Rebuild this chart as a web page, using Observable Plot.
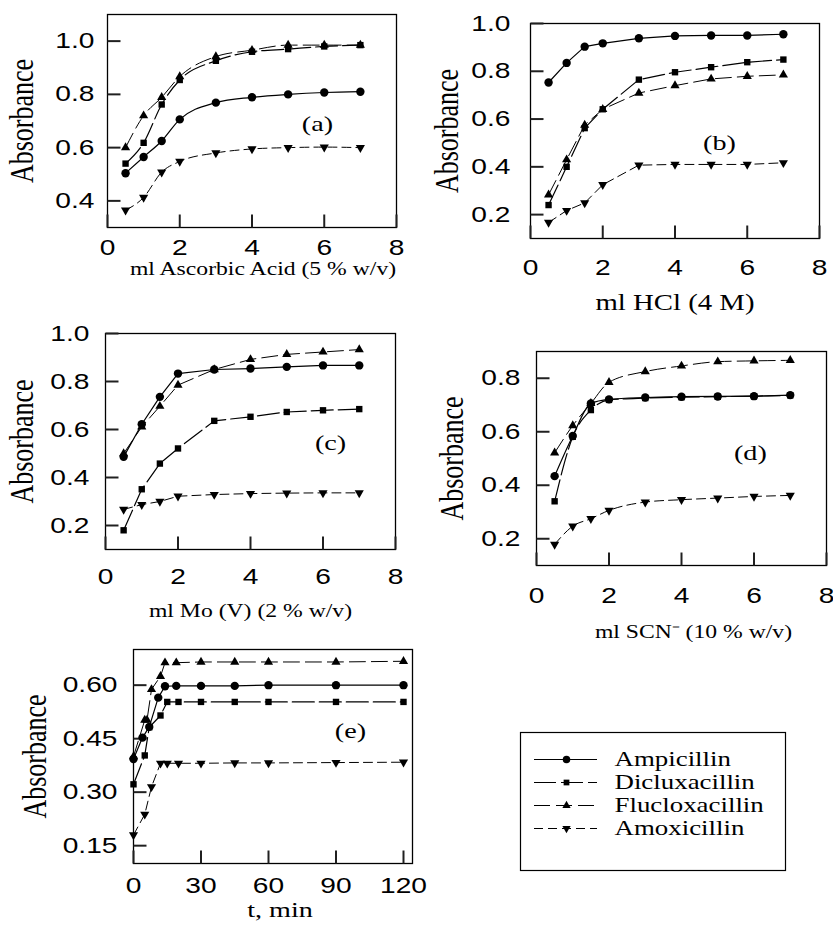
<!DOCTYPE html>
<html><head><meta charset="utf-8">
<script src="https://cdn.jsdelivr.net/npm/d3@7"></script>
<script src="https://cdn.jsdelivr.net/npm/@observablehq/plot@0.6"></script>
<style>
body{margin:0;background:#fff;}
#wrap{position:relative;width:833px;height:928px;background:#fff;overflow:hidden;}
#wrap > svg{position:absolute;}
</style></head><body><div id="wrap"></div>
<script>
// ---------- data ----------
const seriesNames = ["Ampicillin", "Dicluxacillin", "Flucloxacillin", "Amoxicillin"];
const volX = [0.5, 1, 1.5, 2, 3, 4, 5, 6, 7];

// (a) ml Ascorbic Acid
const aAmp = [0.504, 0.565, 0.625, 0.706, 0.769, 0.789, 0.800, 0.807, 0.810];
const aDic = [0.540, 0.618, 0.762, 0.854, 0.926, 0.960, 0.970, 0.980, 0.985];
const aFlu = [0.600, 0.720, 0.789, 0.867, 0.942, 0.966, 0.985, 0.985, 0.985];
const aAmx = [0.365, 0.413, 0.508, 0.548, 0.580, 0.595, 0.600, 0.602, 0.600];
// (b) ml HCl
const bAmp = [0.753, 0.835, 0.903, 0.917, 0.938, 0.948, 0.950, 0.950, 0.955];
const bDic = [0.240, 0.400, 0.562, 0.641, 0.765, 0.796, 0.817, 0.838, 0.849];
const bFlu = [0.283, 0.430, 0.575, 0.641, 0.709, 0.740, 0.768, 0.779, 0.785];
const bAmx = [0.167, 0.217, 0.249, 0.325, 0.407, 0.410, 0.410, 0.410, 0.417];
// (c) ml Mo(V)
const cAmp = [0.486, 0.622, 0.736, 0.833, 0.850, 0.854, 0.861, 0.867, 0.867];
const cDic = [0.180, 0.351, 0.458, 0.521, 0.636, 0.653, 0.673, 0.680, 0.685];
const cFlu = [0.500, 0.611, 0.697, 0.785, 0.850, 0.892, 0.913, 0.923, 0.933];
const cAmx = [0.267, 0.287, 0.300, 0.322, 0.329, 0.333, 0.335, 0.336, 0.336];
// (d) ml SCN-
const dAmp = [0.434, 0.584, 0.706, 0.721, 0.728, 0.731, 0.732, 0.733, 0.737];
const dDic = [0.340, 0.581, 0.681, 0.719, 0.726, 0.729, 0.731, 0.733, 0.736];
const dFlu = [0.521, 0.623, 0.706, 0.785, 0.825, 0.846, 0.862, 0.865, 0.867];
const dAmx = [0.179, 0.247, 0.275, 0.306, 0.337, 0.346, 0.352, 0.358, 0.362];
// (e) time, min
const eAmpT = [0, 4, 7, 11, 14, 19, 30, 45, 60, 90, 120];
const eAmp  = [0.393, 0.453, 0.483, 0.565, 0.597, 0.598, 0.598, 0.598, 0.600, 0.600, 0.600];
const eDicT = [0, 5, 7, 12, 15, 20, 30, 45, 60, 90, 120];
const eDic  = [0.322, 0.403, 0.482, 0.515, 0.553, 0.553, 0.553, 0.553, 0.553, 0.553, 0.553];
const eFluT = [0, 5, 6, 8, 12, 14, 19, 30, 45, 60, 90, 120];
const eFlu  = [0.400, 0.502, 0.502, 0.588, 0.625, 0.663, 0.663, 0.665, 0.665, 0.665, 0.665, 0.667];
const eAmxT = [0, 5, 8, 12, 15, 20, 30, 45, 60, 90, 120];
const eAmx  = [0.180, 0.238, 0.315, 0.381, 0.381, 0.381, 0.381, 0.382, 0.382, 0.383, 0.384];

const volTicks = [0, 2, 4, 6, 8];
const timeTicks = [0, 30, 60, 90, 120];
const yTicksA = [0.4, 0.6, 0.8, 1.0];
const yTicksBC = [0.2, 0.4, 0.6, 0.8, 1.0];
const yTicksD = [0.2, 0.4, 0.6, 0.8];
const yTicksE = [0.15, 0.30, 0.45, 0.60];

// ---------- styles ----------
const SANS = "'Liberation Sans', Arial, sans-serif";
const SERIF = "'Liberation Serif', 'Times New Roman', serif";
const STRETCH = 1.28;
const INK = "black";
const TICKINK = "#202020";
const TICK = 13;
const sty = {
  Ampicillin:     {symbol: "circle",   r: 4.2, rotate: 0,   dash: null,   sw: 1.2},
  Dicluxacillin:  {symbol: "square",   r: 3.6, rotate: 0,   dash: "22,5", sw: 1.2},
  Flucloxacillin: {symbol: "triangle", r: 3.4, rotate: 0,   dash: "16,6", sw: 1.0},
  Amoxicillin:    {symbol: "triangle", r: 3.4, rotate: 180, dash: "9,5",  sw: 1.0}
};

const wrap = document.getElementById("wrap");

function stretchText(svg) {
  svg.querySelectorAll("text").forEach(t => {
    let tr = t.getAttribute("transform");
    if (tr) {
      if (tr.includes("rotate")) tr = tr.replace("rotate", `scale(${STRETCH},1) rotate`);
      else tr = tr + ` scale(${STRETCH},1)`;
      t.setAttribute("transform", tr);
    } else {
      const x = +t.getAttribute("x") || 0, y = +t.getAttribute("y") || 0;
      t.setAttribute("x", 0); t.setAttribute("y", 0);
      t.setAttribute("transform", `translate(${x},${y}) scale(${STRETCH},1)`);
    }
  });
}

function place(svg, left, top) {
  svg.style.left = left + "px";
  svg.style.top = top + "px";
  stretchText(svg);
  wrap.appendChild(svg);
}

function panel(c) {
  const fw = c.w - c.mL - c.mR, fh = c.h - c.mT - c.mB;
  const [x0, x1] = c.xDomain, [y0, y1] = c.yDomain;
  const tx = TICK * (x1 - x0) / fw, ty = TICK * (y1 - y0) / fh;  // tick length in data units
  const marks = [
    Plot.frame({stroke: INK, strokeWidth: 1.3, fill: "none"}),
    // inward tick marks
    Plot.link(c.xTicks, {x1: d => d, x2: d => d, y1: y0, y2: y0 + ty, stroke: TICKINK, strokeWidth: 2}),
    Plot.link(c.yTicks, {y1: d => d, y2: d => d, x1: x0, x2: x0 + tx, stroke: TICKINK, strokeWidth: 2}),
    // tick labels
    Plot.axisX({ticks: c.xTicks, tickSize: 0, tickPadding: c.xPad, fontSize: 22, fontFamily: SANS, label: null, fill: INK}),
    Plot.axisY({ticks: c.yTicks, tickSize: 0, tickPadding: c.yPad, tickFormat: d3.format(c.yFmt), fontSize: 22, fontFamily: SANS, label: null, fill: INK})
  ];
  c.series.forEach(([name, xs, ys]) => {
    const d = xs.map((x, i) => ({x, y: ys[i]}));
    const s = sty[name];
    marks.push(Plot.line(d, {x: "x", y: "y", stroke: INK, strokeWidth: s.sw, strokeDasharray: s.dash, curve: c.curve}));
  });
  c.series.forEach(([name, xs, ys]) => {
    const d = xs.map((x, i) => ({x, y: ys[i]}));
    const s = sty[name];
    marks.push(Plot.dot(d, {x: "x", y: "y", symbol: s.symbol, r: s.r, rotate: s.rotate, fill: INK, stroke: "none"}));
  });
  marks.push(Plot.text([c.xLabel], {text: d => d, frameAnchor: "bottom", textAnchor: "middle", lineAnchor: "middle", dx: c.xLabelDx, dy: c.xLabelDy, fontFamily: SERIF, fontSize: c.xLabelSize, fill: INK}));
  marks.push(Plot.text(["Absorbance"], {text: d => d, frameAnchor: "left", textAnchor: "middle", lineAnchor: "middle", dx: c.yLabelDx, rotate: -90, fontFamily: SERIF, fontSize: 26, fill: INK}));
  marks.push(Plot.text([c.tag], {text: d => d, x: c.tagX, y: c.tagY, fontFamily: SERIF, fontSize: 22, fill: INK}));
  const svg = Plot.plot({
    width: c.w, height: c.h,
    marginLeft: c.mL, marginRight: c.mR, marginTop: c.mT, marginBottom: c.mB,
    x: {domain: c.xDomain, axis: null, label: null},
    y: {domain: c.yDomain, axis: null, label: null},
    style: {background: "transparent", overflow: "visible", fontFamily: SANS, color: "black"},
    marks
  });
  place(svg, c.left, c.top);
}

panel({left: 0, top: 0, w: 420, h: 300, mL: 107, mR: 24, mT: 14, mB: 73,
  xDomain: [0, 8], yDomain: [0.3, 1.1], xTicks: volTicks, yTicks: yTicksA, yFmt: ".1f",
  xPad: 12, yPad: 13, curve: "monotone-x",
  xLabel: "ml Ascorbic Acid (5 % w/v)", xLabelSize: 18.5, xLabelDx: 11, xLabelDy: 42, yLabelDx: -85,
  tag: "(a)", tagX: 5.81, tagY: 0.69,
  series: [["Ampicillin", volX, aAmp], ["Dicluxacillin", volX, aDic], ["Flucloxacillin", volX, aFlu], ["Amoxicillin", volX, aAmx]]});

panel({left: 420, top: 0, w: 413, h: 320, mL: 110, mR: 14, mT: 23, mB: 82,
  xDomain: [0, 8], yDomain: [0.1, 1.0], xTicks: volTicks, yTicks: yTicksBC, yFmt: ".1f",
  xPad: 21, yPad: 20, curve: "linear",
  xLabel: "ml HCl (4 M)", xLabelSize: 22.5, xLabelDx: 0, xLabelDy: 64, yLabelDx: -83,
  tag: "(b)", tagX: 5.23, tagY: 0.498,
  series: [["Ampicillin", volX, bAmp], ["Dicluxacillin", volX, bDic], ["Flucloxacillin", volX, bFlu], ["Amoxicillin", volX, bAmx]]});

panel({left: 0, top: 310, w: 420, h: 330, mL: 105, mR: 25, mT: 23, mB: 91,
  xDomain: [0, 8], yDomain: [0.1, 1.0], xTicks: volTicks, yTicks: yTicksBC, yFmt: ".1f",
  xPad: 19, yPad: 16, curve: "linear",
  xLabel: "ml Mo (V) (2 % w/v)", xLabelSize: 18.5, xLabelDx: 0, xLabelDy: 62, yLabelDx: -83,
  tag: "(c)", tagX: 6.21, tagY: 0.546,
  series: [["Ampicillin", volX, cAmp], ["Dicluxacillin", volX, cDic], ["Flucloxacillin", volX, cFlu], ["Amoxicillin", volX, cAmx]]});

panel({left: 420, top: 330, w: 413, h: 320, mL: 116, mR: 7, mT: 21, mB: 85,
  xDomain: [0, 8], yDomain: [0.1, 0.9], xTicks: volTicks, yTicks: yTicksD, yFmt: ".1f",
  xPad: 22, yPad: 16, curve: "monotone-x",
  xLabel: "ml SCN\u207B (10 % w/v)", xLabelSize: 18.5, xLabelDx: 12, xLabelDy: 67, yLabelDx: -84,
  tag: "(d)", tagX: 5.9, tagY: 0.519,
  series: [["Ampicillin", volX, dAmp], ["Dicluxacillin", volX, dDic], ["Flucloxacillin", volX, dFlu], ["Amoxicillin", volX, dAmx]]});

panel({left: 0, top: 630, w: 430, h: 298, mL: 133, mR: 18, mT: 19, mB: 65,
  xDomain: [0, 124], yDomain: [0.1, 0.7], xTicks: timeTicks, yTicks: yTicksE, yFmt: ".2f",
  xPad: 14, yPad: 16, curve: "linear",
  xLabel: "t, min", xLabelSize: 22, xLabelDx: 7, xLabelDy: 46, yLabelDx: -98,
  tag: "(e)", tagX: 96.4, tagY: 0.473,
  series: [["Ampicillin", eAmpT, eAmp], ["Dicluxacillin", eDicT, eDic], ["Flucloxacillin", eFluT, eFlu], ["Amoxicillin", eAmxT, eAmx]]});

// ---------- legend ----------
{
  const marks = [Plot.frame({stroke: INK, strokeWidth: 1.2, fill: "none"})];
  for (const name of seriesNames) {
    const s = sty[name];
    marks.push(Plot.ruleY([name], {y: d => d, x1: 14, x2: 77, stroke: INK, strokeWidth: s.sw, strokeDasharray: s.dash}));
    marks.push(Plot.dot([name], {y: d => d, x: 46, symbol: s.symbol, r: s.r * 0.9, rotate: s.rotate, fill: INK, stroke: "none"}));
    marks.push(Plot.text([name], {y: d => d, x: 94, text: d => d, textAnchor: "start", fontFamily: SERIF, fontSize: 21, fill: INK}));
  }
  const svg = Plot.plot({
    width: 267, height: 140, margin: 1,
    x: {domain: [0, 265], axis: null},
    y: {type: "point", domain: seriesNames, range: [15, 109], axis: null},
    style: {background: "transparent", overflow: "visible", color: "black"},
    marks
  });
  place(svg, 519, 731);
}
</script></body></html>
